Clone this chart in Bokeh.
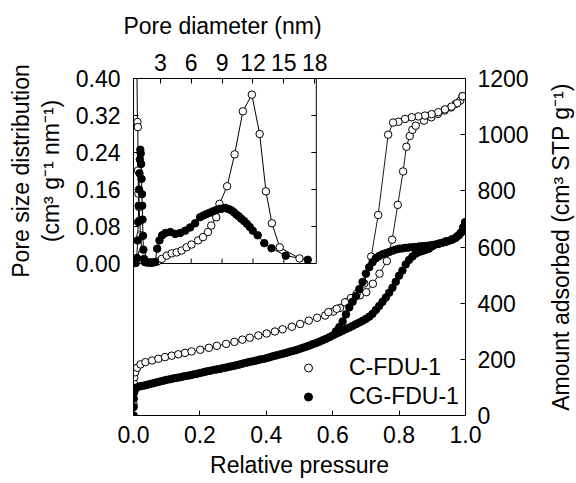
import math
from bokeh.plotting import figure
from bokeh.layouts import row, column
from bokeh.models import (Range1d, LinearAxis, FixedTicker, PrintfTickFormatter,
                          Legend, LegendItem)
from bokeh.core.properties import value
from bokeh.embed import file_html
from bokeh.resources import INLINE

# ---------------- data ----------------
series_names = ["C-FDU-1", "CG-FDU-1"]

# C-FDU-1 isotherm (open circles)
c_ads_p = [0.0, 0.0002, 0.0005, 0.001, 0.002, 0.005, 0.011, 0.021, 0.036, 0.056,
           0.075, 0.095, 0.115, 0.135, 0.155, 0.175, 0.201, 0.227, 0.251, 0.279,
           0.304, 0.328, 0.350, 0.376, 0.401, 0.426, 0.449, 0.477, 0.502, 0.528,
           0.553, 0.577, 0.602, 0.622, 0.642, 0.662, 0.682, 0.701, 0.721, 0.741,
           0.763, 0.779, 0.796, 0.812, 0.822, 0.832, 0.840, 0.850, 0.875, 0.897,
           0.917, 0.937, 0.956, 0.971, 0.984, 0.991]
c_ads_v = [0, 40, 80, 115, 136, 154, 170, 182, 190, 196,
           202, 208, 213, 218, 223, 228, 234, 241, 248, 255,
           262, 270, 277, 285, 292, 299, 307, 316, 326, 338,
           348, 356, 370, 383, 403, 418, 428, 439, 469, 505,
           550, 626, 750, 869, 957, 995, 1017, 1032, 1050, 1062,
           1074, 1086, 1097, 1110, 1121, 1137]
c_des_p = [0.991, 0.975, 0.958, 0.938, 0.918, 0.898, 0.878, 0.858, 0.838, 0.818,
           0.798, 0.782, 0.767, 0.737, 0.716, 0.695, 0.672, 0.655, 0.637, 0.612,
           0.587]
c_des_v = [1137, 1112, 1100, 1090, 1080, 1073, 1068, 1065, 1062, 1056,
           1046, 1043, 1000, 714, 566, 470, 433, 418, 403, 380,
           368]

# CG-FDU-1 isotherm (filled circles)
cg_ads_p = [0.0, 0.0003, 0.0008, 0.002, 0.005,
            0.01, 0.02, 0.03, 0.04, 0.05, 0.06, 0.07, 0.08, 0.09, 0.10,
            0.11, 0.12, 0.13, 0.14, 0.15, 0.16, 0.17, 0.18, 0.19, 0.20,
            0.21, 0.22, 0.23, 0.24, 0.25, 0.26, 0.27, 0.28, 0.29, 0.30,
            0.31, 0.32, 0.33, 0.34, 0.35, 0.36, 0.37, 0.38, 0.39, 0.40,
            0.41, 0.42, 0.43, 0.44, 0.45, 0.46, 0.47, 0.48, 0.49, 0.50,
            0.51, 0.52, 0.53, 0.54, 0.55, 0.56, 0.57, 0.58, 0.59, 0.60,
            0.61, 0.62, 0.63, 0.64, 0.65, 0.66, 0.67, 0.68, 0.69, 0.70,
            0.71, 0.72, 0.73, 0.74, 0.75, 0.76, 0.77, 0.78, 0.79, 0.80,
            0.81, 0.82, 0.83, 0.84, 0.85, 0.86, 0.87, 0.88, 0.89, 0.90,
            0.92, 0.94, 0.96, 0.975, 0.985, 0.993, 0.999]
cg_ads_v = [0, 30, 60, 82, 94,
            100, 104, 106, 109, 112, 115, 118, 121, 124, 127,
            129, 132, 134, 136, 139, 141, 143, 146, 148, 151,
            154, 157, 159, 162, 164, 166, 169, 171, 174, 176,
            179, 182, 185, 188, 191, 193, 196, 199, 201, 204,
            207, 211, 214, 217, 220, 223, 227, 230, 233, 237,
            241, 245, 249, 254, 258, 263, 268, 273, 279, 285,
            291, 296, 302, 308, 313, 319, 325, 331, 337, 344,
            352, 362, 376, 390, 405, 420, 437, 455, 476, 498,
            516, 538, 554, 566, 576, 582, 586, 590, 594, 603,
            612, 620, 628, 638, 650, 670, 688]
cg_des_p = [0.999, 0.99, 0.98, 0.97, 0.96, 0.95, 0.94, 0.93, 0.92, 0.91,
            0.90, 0.89, 0.88, 0.87, 0.86, 0.85, 0.84, 0.83, 0.82, 0.81,
            0.80, 0.79, 0.78, 0.77, 0.76, 0.75, 0.74, 0.73, 0.72, 0.71,
            0.70, 0.69, 0.68, 0.67, 0.66, 0.65, 0.64, 0.63, 0.62, 0.61]
cg_des_v = [688, 655, 642, 632, 626, 622, 618, 615, 612, 609,
            607, 605, 604, 603, 602, 600, 599, 598, 597, 595,
            594, 591, 587, 582, 578, 574, 568, 560, 546, 528,
            505, 475, 450, 425, 405, 385, 360, 335, 315, 300]

# Pore size distribution (inset)
psd_c_d = [0.70, 0.78, 0.82, 0.84, 0.88, 0.95, 1.00, 1.08, 1.22, 1.50,
           2.10, 2.70, 3.15, 3.63, 4.11, 4.59, 5.07, 5.55, 6.03, 6.67,
           7.15, 7.63, 7.95, 8.43, 8.75, 9.49, 10.22, 11.02, 11.89, 12.65,
           13.26, 13.84, 14.60, 16.52]
psd_c_y = [0.50, 0.306, 0.295, 0.201, 0.151, 0.122, 0.093, 0.061, 0.021, 0.006,
           0.002, 0.004, 0.010, 0.017, 0.022, 0.024, 0.028, 0.035, 0.041, 0.050,
           0.057, 0.068, 0.082, 0.100, 0.129, 0.167, 0.236, 0.329, 0.365, 0.280,
           0.156, 0.087, 0.035, 0.011]
psd_cg_d = [0.62, 0.72, 0.80, 0.86, 0.90, 0.94, 0.98, 1.02, 1.06, 1.10,
            1.14, 1.18, 1.22, 1.25, 1.28, 1.32, 1.36, 1.42, 1.50, 1.70,
            1.90, 2.10, 2.30, 2.50, 2.70, 2.92, 3.18, 3.50, 3.98, 4.46,
            4.94, 5.42, 5.90, 6.38, 6.86, 7.20, 7.50, 7.82, 8.14, 8.46,
            8.78, 9.05, 9.33, 9.62, 9.90, 10.14, 10.38, 10.62, 10.86, 11.13,
            11.40, 11.69, 11.98, 12.46, 13.10, 13.80, 15.18, 17.32]
psd_cg_y = [0.001, 0.012, 0.050, 0.090, 0.125, 0.160, 0.195, 0.225, 0.246, 0.238,
            0.215, 0.183, 0.150, 0.125, 0.095, 0.060, 0.030, 0.010, 0.003, 0.002,
            0.002, 0.002, 0.002, 0.003, 0.032, 0.050, 0.061, 0.066, 0.068, 0.064,
            0.066, 0.071, 0.078, 0.087, 0.100, 0.104, 0.107, 0.110, 0.113, 0.116,
            0.118, 0.119, 0.120, 0.118, 0.115, 0.111, 0.106, 0.102, 0.097, 0.092,
            0.086, 0.079, 0.071, 0.061, 0.044, 0.033, 0.017, 0.008]

# ticks / ranges / titles
x_ticks = [0.0, 0.2, 0.4, 0.6, 0.8, 1.0]
y_ticks = [0, 200, 400, 600, 800, 1000, 1200]
inset_x_ticks = [3, 6, 9, 12, 15, 18]
inset_y_ticks = [0.00, 0.08, 0.16, 0.24, 0.32, 0.40]
X0, X1 = 0.0, 1.0
Y0, Y1 = 0.0, 1200.0
IX0, IX1 = 0.4, 18.15
IY0, IY1 = 0.0, 0.40
x_title = "Relative pressure"
y_title = "Amount adsorbed (cm³ STP g⁻¹)"
inset_x_title = "Pore diameter (nm)"
inset_y_title = ["Pore size distribution", "(cm³ g⁻¹ nm⁻¹)"]

# ---------------- layout (page pixels) ----------------
TOTAL_W, TOTAL_H = 576, 483
FRAME_L, FRAME_R, FRAME_T, FRAME_B = 131, 467, 78, 415
FW, FH = FRAME_R - FRAME_L, FRAME_B - FRAME_T
INSET_W, INSET_H = 185, 185
TOP_H = 48
LEFT_W = 72
RIGHT_W = 45
MAIN_W = TOTAL_W - LEFT_W - RIGHT_W
ROW_H = TOTAL_H - TOP_H
FONT = "Liberation Sans"
FS = "23px"

ix_full_end = IX0 + (IX1 - IX0) * FW / INSET_W
iy_full_start = IY1 - (IY1 - IY0) * FH / INSET_H


def blank_fig(w, h):
    f = figure(width=w, height=h, x_range=Range1d(0, w), y_range=Range1d(0, h),
               x_axis_location=None, y_axis_location=None, toolbar_location=None,
               output_backend="svg", title=None, min_border=0)
    f.outline_line_color = None
    f.grid.visible = False
    f.background_fill_color = "white"
    f.border_fill_color = "white"
    return f


def put_text(f, xs, ys, texts, angle=0.0):
    f.text(x=xs, y=ys, text=texts, angle=angle, text_align="center",
           text_baseline="middle", text_font=value(FONT),
           text_font_size=value(FS), text_color="black")


# top strip: inset x title, centred on the inset
top_fig = blank_fig(TOTAL_W, TOP_H)
put_text(top_fig, [FRAME_L + INSET_W / 2 - 1.5], [TOP_H - 25], [inset_x_title])

# left strip: two-line inset y title, centred on the inset
left_fig = blank_fig(LEFT_W, ROW_H)
inset_cy = ROW_H - (FRAME_T + INSET_H / 2 - TOP_H)
put_text(left_fig, [20, 50], [inset_cy, inset_cy], inset_y_title, math.pi / 2)

# right strip: main y title, centred on the main frame
right_fig = blank_fig(RIGHT_W, ROW_H)
main_cy = ROW_H - ((FRAME_T + FRAME_B) / 2 - TOP_H)
put_text(right_fig, [RIGHT_W - 16], [main_cy], [y_title], math.pi / 2)

# main plot
p = figure(width=MAIN_W, height=ROW_H, x_range=Range1d(X0, X1), y_range=Range1d(Y0, Y1),
           y_axis_location="right", toolbar_location=None, output_backend="svg",
           title=None, min_border_left=FRAME_L - LEFT_W,
           min_border_right=LEFT_W + MAIN_W - FRAME_R,
           min_border_top=FRAME_T - TOP_H, min_border_bottom=TOP_H + ROW_H - FRAME_B)
p.extra_x_ranges = {"ix": Range1d(IX0, ix_full_end)}
p.extra_y_ranges = {"iy": Range1d(iy_full_start, IY1)}
p.grid.visible = False
p.outline_line_color = "black"
p.outline_line_width = 1
p.background_fill_color = "white"
p.border_fill_color = "white"


def style_axis(ax, ticks, fmt, standoff):
    ax.ticker = FixedTicker(ticks=ticks, minor_ticks=[])
    ax.formatter = PrintfTickFormatter(format=fmt)
    ax.major_tick_in = 5
    ax.major_tick_out = 0
    ax.minor_tick_line_color = None
    ax.major_label_text_font = FONT
    ax.major_label_text_font_size = FS
    ax.major_label_text_color = "black"
    ax.major_label_standoff = standoff
    ax.axis_line_color = "black"
    ax.major_tick_line_color = "black"


style_axis(p.xaxis[0], x_ticks, "%.1f", 10)
p.xaxis[0].axis_label = x_title
p.xaxis[0].axis_label_text_font = FONT
p.xaxis[0].axis_label_text_font_size = FS
p.xaxis[0].axis_label_text_font_style = "normal"
p.xaxis[0].axis_label_text_color = "black"
p.xaxis[0].axis_label_standoff = 6
style_axis(p.yaxis[0], y_ticks, "%d", 12)

ax_top = LinearAxis(x_range_name="ix")
style_axis(ax_top, inset_x_ticks, "%d", 8)
p.add_layout(ax_top, "above")

ax_left = LinearAxis(y_range_name="iy")
style_axis(ax_left, inset_y_ticks, "%.2f", 13)
p.add_layout(ax_left, "left")

# ---- inset frame (right and bottom edges) with inward ticks ----
tick_dx = 5 * (IX1 - IX0) / INSET_W
tick_dy = 5 * (IY1 - IY0) / INSET_H
p.segment(x0=[IX0, IX1], y0=[IY0, IY0], x1=[IX1, IX1], y1=[IY0, IY1],
          x_range_name="ix", y_range_name="iy", line_color="black", line_width=1)
bt = [t for t in inset_x_ticks if t < IX1 - 1]
p.segment(x0=bt, y0=[IY0] * len(bt), x1=bt, y1=[IY0 + tick_dy] * len(bt),
          x_range_name="ix", y_range_name="iy", line_color="black", line_width=1)
rt = [t for t in inset_y_ticks if IY0 < t < IY1]
p.segment(x0=[IX1] * len(rt), y0=rt, x1=[IX1 - tick_dx] * len(rt), y1=rt,
          x_range_name="ix", y_range_name="iy", line_color="black", line_width=1)

MS = 7.5
# ---- inset PSD ----
p.line(psd_c_d, psd_c_y, x_range_name="ix", y_range_name="iy", line_color="black", line_width=1)
p.line(psd_cg_d, psd_cg_y, x_range_name="ix", y_range_name="iy", line_color="black", line_width=1)
p.scatter(psd_c_d, psd_c_y, x_range_name="ix", y_range_name="iy", marker="circle", size=MS,
          fill_color="white", line_color="black", line_width=1)
p.scatter(psd_cg_d, psd_cg_y, x_range_name="ix", y_range_name="iy", marker="circle", size=MS,
          fill_color="black", line_color="black", line_width=1)

# ---- main isotherms ----
for px_, py_ in [(c_ads_p, c_ads_v), (c_des_p, c_des_v), (cg_ads_p, cg_ads_v), (cg_des_p, cg_des_v)]:
    p.line(px_, py_, line_color="black", line_width=0.9)
c_sc = p.scatter(c_ads_p, c_ads_v, marker="circle", size=MS, fill_color="white",
                 line_color="black", line_width=1)
p.scatter(c_des_p, c_des_v, marker="circle", size=MS, fill_color="white",
          line_color="black", line_width=1)
cg_sc = p.scatter(cg_ads_p, cg_ads_v, marker="circle", size=MS, fill_color="black",
                  line_color="black", line_width=1)
p.scatter(cg_des_p, cg_des_v, marker="circle", size=MS, fill_color="black",
          line_color="black", line_width=1)

legend = Legend(items=[LegendItem(label=series_names[0], renderers=[c_sc]),
                       LegendItem(label=series_names[1], renderers=[cg_sc])],
                location=(165, 4), orientation="vertical",
                glyph_width=20, glyph_height=29, label_height=29, spacing=0,
                padding=0, margin=0, label_standoff=31,
                label_text_font=FONT, label_text_font_size=FS, label_text_color="black",
                background_fill_alpha=0, border_line_color=None)
p.add_layout(legend, "center")

# wrap the main plot in its own column so its borders are not shared with the
# title strips (which keep full-size frames for their rotated texts)
layout = column(top_fig, row(left_fig, column(p, spacing=0), right_fig, spacing=0), spacing=0)
open("out.html", "w").write(file_html(layout, INLINE))
